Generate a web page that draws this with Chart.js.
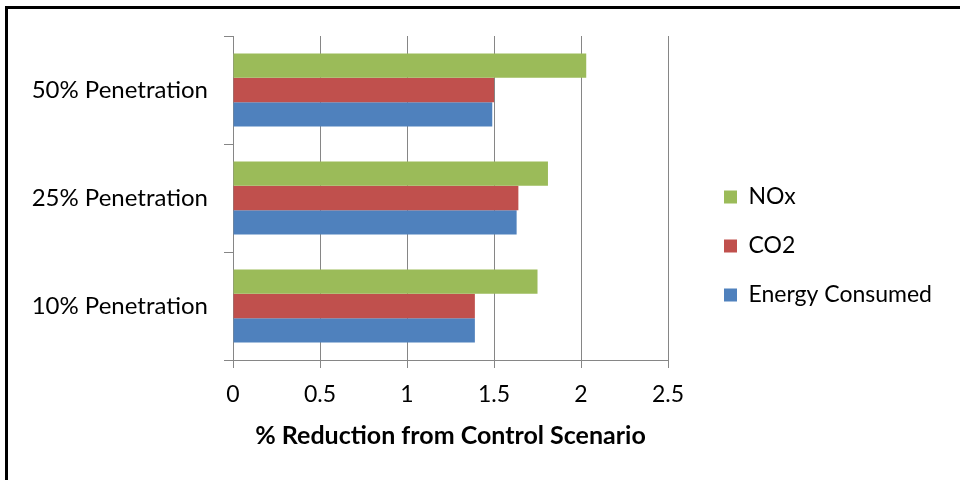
<!DOCTYPE html>
<html>
<head>
<meta charset="utf-8">
<script src="https://cdn.jsdelivr.net/npm/chart.js@4.4.1/dist/chart.umd.min.js"></script>
<style>
  html, body { margin: 0; padding: 0; background: #fff; }
  #wrap { position: relative; width: 960px; height: 480px; }
  #frame {
    position: absolute; left: 5px; top: 6px; right: -10px; bottom: -10px;
    border-left: 3px solid #000; border-top: 3px solid #000;
    pointer-events: none;
  }
</style>
</head>
<body>
<div id="wrap">
  <canvas id="chart" width="960" height="480"></canvas>
  <div id="frame"></div>
</div>
<script>
// Categories, top to bottom as drawn
const categories = ['50% Penetration', '25% Penetration', '10% Penetration'];

// Series values (% reduction)
const noxValues = [2.03, 1.81, 1.75];
const co2Values = [1.50, 1.64, 1.39];
const energyValues = [1.49, 1.63, 1.39];

const xMin = 0;
const xMax = 2.5;
const xStep = 0.5;

const gridColor = '#868686';
const fontFamily = 'Lato, "Open Sans", sans-serif';

const ctx = document.getElementById('chart').getContext('2d');
new Chart(ctx, {
    type: 'bar',
    data: {
        labels: categories,
        datasets: [
            { label: 'NOx', data: noxValues, backgroundColor: '#9BBB59' },
            { label: 'CO2', data: co2Values, backgroundColor: '#C0504D' },
            { label: 'Energy Consumed', data: energyValues, backgroundColor: '#4F81BD' }
        ]
    },
    options: {
        indexAxis: 'y',
        responsive: false,
        animation: false,
        datasets: {
            bar: { categoryPercentage: 0.675, barPercentage: 1.0, borderWidth: 0 }
        },
        layout: { padding: { left: 10, top: 36, right: 18, bottom: 24 } },
        plugins: {
            tooltip: { enabled: false },
            legend: {
                position: 'right',
                align: 'center',
                maxWidth: 320,
                labels: {
                    boxWidth: 13,
                    boxHeight: 13,
                    padding: 26,
                    color: '#000',
                    font: { family: fontFamily, size: 23 }
                }
            }
        },
        scales: {
            x: {
                min: xMin,
                max: xMax,
                ticks: {
                    stepSize: xStep,
                    padding: 13,
                    color: '#000',
                    font: { family: fontFamily, size: 23 },
                    callback: function(v) { return String(v); }
                },
                grid: { color: gridColor, lineWidth: 1, tickLength: 8 },
                border: { color: gridColor },
                title: {
                    display: true,
                    text: '% Reduction from Control Scenario',
                    color: '#000',
                    font: { family: fontFamily, size: 25, weight: 'bold' },
                    padding: { top: 0, bottom: 5 }
                },
                afterFit: function(scale) { scale.height = 96; }
            },
            y: {
                offset: true,
                ticks: {
                    padding: 16,
                    color: '#000',
                    font: { family: fontFamily, size: 24 }
                },
                grid: { color: gridColor, drawOnChartArea: false, tickLength: 9, offset: true },
                border: { color: gridColor },
                afterFit: function(scale) { scale.width = 223; }
            },
            yR: {
                axis: 'y',
                type: 'category',
                position: 'right',
                ticks: { display: false },
                grid: { display: false },
                border: { display: false },
                afterFit: function(scale) { scale.width = 30; }
            }
        }
    }
});
</script>
</body>
</html>
